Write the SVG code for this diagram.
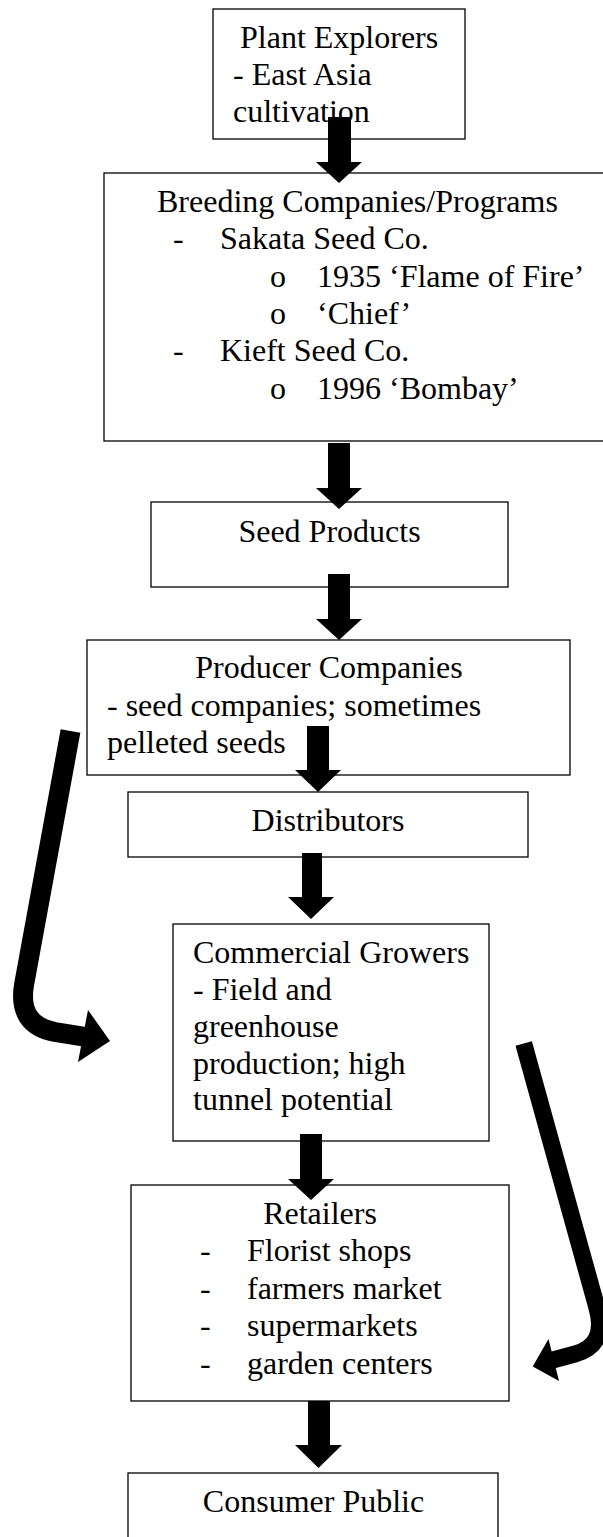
<svg xmlns="http://www.w3.org/2000/svg" width="603" height="1537" viewBox="0 0 603 1537">
<style>
.box{fill:#fff;stroke:#000;stroke-width:1.3}
text{font-family:"Liberation Serif","Times New Roman",serif;font-size:32px;fill:#000}
.c{text-anchor:middle}
.arr{fill:#000;stroke:none}
.band{fill:none;stroke:#000;stroke-linejoin:round}
</style>
<rect width="603" height="1537" fill="#fff"/>
<g id="plant-explorers">
<rect class="box" x="213" y="9" width="252" height="130"/>
<text x="240" y="48">Plant Explorers</text>
<text x="233" y="85">- East Asia</text>
<text x="233" y="122">cultivation</text>
</g>
<g id="breeding">
<rect class="box" x="104" y="173" width="510" height="268"/>
<text x="157" y="212">Breeding Companies/Programs</text>
<text x="173" y="249.3">-</text><text x="220" y="249.3">Sakata Seed Co.</text>
<text x="270" y="286.6">o</text><text x="317" y="286.6">1935 ‘Flame of Fire’</text>
<text x="270" y="323.9">o</text><text x="317" y="323.9">‘Chief’</text>
<text x="173" y="361.2">-</text><text x="220" y="361.2">Kieft Seed Co.</text>
<text x="270" y="398.5">o</text><text x="317" y="398.5">1996 ‘Bombay’</text>
</g>
<g id="seed-products">
<rect class="box" x="151" y="502" width="357" height="85"/>
<text class="c" x="329.5" y="542">Seed Products</text>
</g>
<g id="producer">
<rect class="box" x="87" y="640" width="483" height="135"/>
<text class="c" x="329" y="678">Producer Companies</text>
<text x="107" y="716">- seed companies; sometimes</text>
<text x="107" y="753">pelleted seeds</text>
</g>
<g id="distributors">
<rect class="box" x="128" y="792" width="400" height="65"/>
<text class="c" x="328" y="831">Distributors</text>
</g>
<g id="growers">
<rect class="box" x="173" y="924" width="316" height="217"/>
<text x="193" y="963">Commercial Growers</text>
<text x="193" y="1000">- Field and</text>
<text x="193" y="1037">greenhouse</text>
<text x="193" y="1073.5">production; high</text>
<text x="193" y="1110">tunnel potential</text>
</g>
<g id="retailers">
<rect class="box" x="131" y="1185" width="378" height="216"/>
<text class="c" x="320" y="1224">Retailers</text>
<text x="200" y="1261">-</text><text x="247" y="1261">Florist shops</text>
<text x="200" y="1298.5">-</text><text x="247" y="1298.5">farmers market</text>
<text x="200" y="1336">-</text><text x="247" y="1336">supermarkets</text>
<text x="200" y="1373.5">-</text><text x="247" y="1373.5">garden centers</text>
</g>
<g id="consumer">
<rect class="box" x="128" y="1473" width="370" height="100"/>
<text class="c" x="313.5" y="1512">Consumer Public</text>
</g>
<g id="connectors">
<polygon class="arr" points="328,117 351,117 351,162 362,162 339,183 316,162 328,162"/>
<polygon class="arr" points="328,443 350,443 350,488 362,488 339,509 316,488 328,488"/>
<polygon class="arr" points="328,574 350,574 350,619 362,619 339,640 316,619 328,619"/>
<polygon class="arr" points="307,726 329,726 329,770 341,770 318,792 295,770 307,770"/>
<polygon class="arr" points="302,853 322,853 322,897 334,897 311,919 288,897 302,897"/>
<polygon class="arr" points="300,1134 322,1134 322,1179 334,1179 311,1200 288,1179 300,1179"/>
<polygon class="arr" points="308,1401 330,1401 330,1445 342,1445 318.5,1468 295,1445 308,1445"/>
<path class="band" stroke-width="20" d="M70.5 731 L24 985 Q17.5 1025 55 1032 L86 1037"/>
<polygon class="arr" points="88,1010 110,1041 78,1062"/>
<path class="band" stroke-width="17" d="M523.7 1043.4 L597 1308 Q607.3 1345.3 575 1354 L551 1360.5"/>
<polygon class="arr" points="548.5,1339 532.7,1366.5 559,1381"/>
</g>
</svg>
